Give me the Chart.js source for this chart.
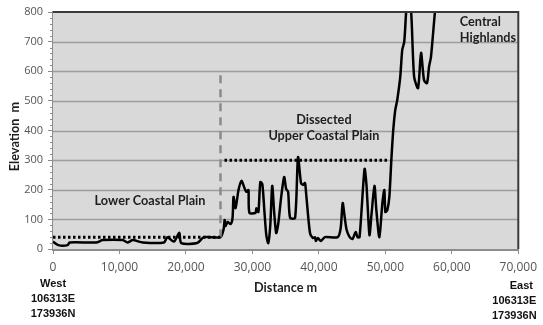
<!DOCTYPE html>
<html>
<head>
<meta charset="utf-8">
<script src="https://cdn.jsdelivr.net/npm/chart.js@4/dist/chart.umd.min.js"></script>
<style>
  html, body { margin: 0; padding: 0; background: #fff; }
  #wrap { width: 543px; height: 325px; }
</style>
</head>
<body>
<div id="wrap"><canvas id="profile"></canvas></div>
<script>
// elevation profile, west to east
const distance = [
  0, 800, 2200, 2500, 6500, 7500, 10500, 11200, 12000, 13500, 16700, 17200, 18200, 19000, 19300, 21700, 22700, 25200,
  25670, 25820, 25970, 26270, 26720, 27010, 27160, 27460, 27910, 28360, 28800, 29100, 29400, 29550,
  30450, 30600, 30900, 31190, 31490, 31790, 32090, 32390, 32690, 32980, 33280, 33580, 33880, 34330, 34780,
  35070, 35370, 35670, 36420, 36860, 37310, 37610, 37910, 38060, 38660, 39100, 39400, 39550, 39850, 40300,
  40900, 42830, 43280, 43580, 43880, 44180, 44630, 45070, 45520, 45820, 46120, 46870, 47160, 47610, 47910,
  48360, 48650, 49100, 49550, 49850, 50000, 50300, 50600, 50900, 51190, 51490, 51790, 52240, 52540, 52840,
  53130, 53430, 53880, 54330, 54920, 55370, 55820, 56270, 56570, 56860, 57460, 57760
];
const elevation = [
  25, 13, 13, 22, 22, 30, 30, 22, 30, 22, 22, 40, 25, 55, 20, 20, 40, 40,
  67, 98, 78, 91, 84, 105, 176, 138, 199, 230, 206, 193, 199, 122,
  122, 138, 125, 226, 219, 132, 47, 20, 81, 213, 122, 54, 84, 176, 243,
  203, 193, 105, 105, 310, 223, 216, 223, 193, 54, 37, 40, 27, 37, 27,
  40, 40, 71, 155, 108, 64, 40, 34, 57, 40, 40, 270, 216, 47, 115,
  213, 130, 40, 155, 199, 125, 132, 176, 300, 402, 469, 503, 581, 672, 699,
  800, 860, 800, 581, 543, 662, 570, 560, 615, 648, 800, 860
];

// physiographic boundaries
const lowerPlainX = [0, 25200];
const lowerPlainY = [40, 40];
const upperPlainX = [25800, 50600];
const upperPlainY = [300, 300];
const dividerX = [25200, 25200];
const dividerY = [40, 600];

const distanceTicks = [0, 10000, 20000, 30000, 40000, 50000, 60000, 70000];
const elevationTicks = [0, 100, 200, 300, 400, 500, 600, 700, 800];

const regionLabels = [
  { lines: ['Lower Coastal Plain'], x: 14600, y: 162, align: 'center' },
  { lines: ['Dissected', 'Upper Coastal Plain'], x: 40750, y: 435, align: 'center' },
  { lines: ['Central', 'Highlands'], x: 61200, y: 766, align: 'left' }
];
const endLabels = [
  { lines: ['West', '106313E', '173936N'], at: 0 },
  { lines: ['East', '106313E', '173936N'], at: 70000 }
];

const pairs = (xs, ys) => xs.map((x, i) => ({ x: x, y: ys[i] }));

const plotDecor = {
  id: 'plotDecor',
  beforeDatasetsDraw(chart) {
    const { ctx, chartArea: a } = chart;
    ctx.save();
    ctx.fillStyle = '#d9d9d9';
    ctx.fillRect(a.left, a.top, a.right - a.left, a.bottom - a.top);
    // redraw grid over the fill
    const y = chart.scales.y;
    ctx.strokeStyle = '#9d9d9d';
    ctx.lineWidth = 1.3;
    elevationTicks.slice(1, -1).forEach(v => {
      const py = Math.round(y.getPixelForValue(v)) + 0.5;
      ctx.beginPath(); ctx.moveTo(a.left, py); ctx.lineTo(a.right, py); ctx.stroke();
    });
    ctx.restore();
  },
  afterDraw(chart) {
    const { ctx, chartArea: a } = chart;
    const x = chart.scales.x, y = chart.scales.y;
    ctx.save();
    // frame: dark top and right edges
    ctx.strokeStyle = '#3a3a3a';
    ctx.lineWidth = 2;
    ctx.beginPath();
    ctx.moveTo(a.left, a.top); ctx.lineTo(a.right, a.top); ctx.lineTo(a.right, a.bottom);
    ctx.stroke();
    // minor ticks on the elevation axis
    ctx.strokeStyle = '#8c8c8c';
    ctx.lineWidth = 1;
    for (let v = 20; v < 800; v += 20) {
      if (v % 100 === 0) continue;
      const py = Math.round(y.getPixelForValue(v)) + 0.5;
      ctx.beginPath(); ctx.moveTo(a.left - 3, py); ctx.lineTo(a.left, py); ctx.stroke();
    }
    // region names
    ctx.fillStyle = '#1e1e1e';
    ctx.font = 'bold 12.7px Lato';
    ctx.textBaseline = 'middle';
    regionLabels.forEach(r => {
      ctx.textAlign = r.align;
      r.lines.forEach((t, i) => {
        ctx.fillText(t, x.getPixelForValue(r.x), y.getPixelForValue(r.y) + i * 16);
      });
    });
    // axis titles
    ctx.textAlign = 'center';
    ctx.fillText('Distance m', (a.left + a.right) / 2, 288);
    ctx.save();
    ctx.translate(15, (a.top + a.bottom) / 2 + 6);
    ctx.rotate(-Math.PI / 2);
    ctx.fillText('Elevation  m', 0, 0);
    ctx.restore();
    // end coordinates
    ctx.font = 'bold 11px "Liberation Sans"';
    ctx.fillStyle = '#111';
    endLabels.forEach((e, k) => {
      const px = x.getPixelForValue(e.at);
      e.lines.forEach((t, i) => {
        const dx = k === 0 ? 0 : (i === 0 ? 3 : -4);
        ctx.fillText(t, px + dx, 284 + k * 2 + i * 15);
      });
    });
    ctx.restore();
  }
};

new Chart(document.getElementById('profile'), {
  type: 'scatter',
  data: {
    datasets: [
      {
        data: pairs(lowerPlainX, lowerPlainY),
        showLine: true, borderColor: '#000', borderWidth: 3, borderDash: [2.5, 2.5],
        pointRadius: 0
      },
      {
        data: pairs(upperPlainX, upperPlainY),
        showLine: true, borderColor: '#000', borderWidth: 3, borderDash: [2.5, 2.5],
        pointRadius: 0
      },
      {
        data: pairs(dividerX, dividerY),
        showLine: true, borderColor: '#8a8a8a', borderWidth: 2.5, borderDash: [8, 6],
        pointRadius: 0
      },
      {
        data: pairs(distance, elevation),
        showLine: true, borderColor: '#000', borderWidth: 2.5, tension: 0.25,
        pointRadius: 0, clip: 0
      }
    ]
  },
  options: {
    responsive: true,
    maintainAspectRatio: false,
    animation: false,
    events: [],
    layout: { padding: { top: 12, right: 21, left: 0, bottom: 0 } },
    plugins: { legend: { display: false }, tooltip: { enabled: false } },
    scales: {
      x: {
        type: 'linear', min: 0, max: 70000,
        afterFit: s => { s.height = 76; },
        afterBuildTicks: s => { s.ticks = distanceTicks.map(v => ({ value: v })); },
        grid: { drawOnChartArea: false, tickLength: 5, tickColor: '#8c8c8c', tickWidth: 1 },
        border: { color: '#8c8c8c', width: 3 },
        ticks: {
          padding: 6, color: '#555', maxRotation: 0,
          font: { family: 'Open Sans', size: 12 },
          callback: v => v.toLocaleString('en-US')
        }
      },
      y: {
        min: 0, max: 800,
        afterFit: s => { s.width = 53; },
        afterBuildTicks: s => { s.ticks = elevationTicks.map(v => ({ value: v })); },
        grid: { drawOnChartArea: false, tickLength: 5, tickColor: '#8c8c8c' },
        border: { color: '#8c8c8c', width: 1.5 },
        ticks: {
          padding: 5, color: '#555',
          font: { family: 'Open Sans', size: 11 }
        }
      }
    }
  },
  plugins: [plotDecor]
});
</script>
</body>
</html>
